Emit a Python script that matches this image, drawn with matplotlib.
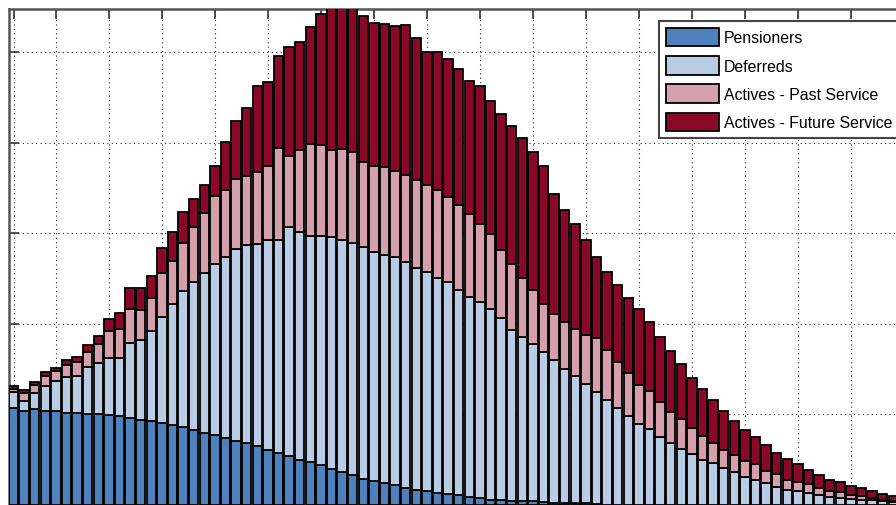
import numpy as np
import matplotlib
matplotlib.use("Agg")
import matplotlib.pyplot as plt

# projected cash flows by year, stacked by member group
years = np.arange(1, 85)

pensioners = [107, 104, 106, 104, 104, 102, 102, 101, 101, 99,
              98, 96, 94, 93, 91, 88, 86, 83, 80, 77,
              74, 71, 68, 65, 61, 57, 54, 50, 47, 44,
              40, 36, 33, 29, 27, 24, 22, 19, 17, 15,
              13, 12, 11, 9, 8, 6, 5, 4, 4, 4,
              3, 2, 2, 2, 2, 1] + [0] * 28

deferreds = [18, 11, 18, 27, 33, 39, 41, 51, 56, 63,
             64, 83, 88, 99, 117, 134, 150, 163, 176, 189,
             200, 212, 219, 223, 232, 236, 253, 252, 250, 253,
             256, 257, 257, 256, 253, 252, 252, 250, 245, 242,
             238, 234, 227, 221, 216, 210, 202, 189, 182, 174,
             166, 158, 148, 141, 132, 124, 116, 107, 98, 90,
             84, 75, 69, 62, 56, 50, 46, 41, 36, 31,
             28, 24, 20, 17, 15, 13, 11, 9, 8, 7,
             6, 5, 4, 3]

past_service = [3, 9, 9, 12, 11, 14, 15, 17, 21, 30,
                33, 38, 33, 37, 48, 48, 54, 61, 67, 75,
                74, 77, 77, 80, 82, 101, 79, 90, 102, 101,
                96, 100, 100, 94, 95, 97, 95, 96, 97, 97,
                97, 94, 94, 91, 86, 83, 75, 73, 65, 59,
                53, 51, 52, 52, 54, 59, 55, 51, 48, 43,
                42, 39, 34, 33, 29, 26, 22, 20, 19, 18,
                17, 14, 14, 11, 10, 10, 8, 7, 6, 4,
                4, 3, 2, 1]

future_service = [4, 3, 3, 4, 3, 5, 6, 8, 9, 13,
                  17, 23, 25, 24, 28, 32, 34, 31, 30, 33,
                  53, 64, 75, 95, 92, 102, 120, 120, 129, 144,
                  161, 162, 163, 161, 158, 158, 160, 165, 157, 146,
                  153, 153, 150, 148, 153, 147, 150, 153, 155, 153,
                  153, 133, 124, 116, 105, 90, 86, 85, 83, 84,
                  76, 72, 67, 61, 55, 52, 48, 43, 38, 34,
                  30, 28, 24, 23, 20, 16, 14, 12, 11, 10,
                  9, 7, 6, 6]

labels = ['Pensioners', 'Deferreds', 'Actives - Past Service', 'Actives - Future Service']
colors = ['#4F81BD', '#B9CCE3', '#D4A0AB', '#8A0828']

plt.rcParams['font.family'] = ['Liberation Sans', 'DejaVu Sans']

W, H = 896, 506
fig = plt.figure(figsize=(W / 100, H / 100), dpi=100)

# axes placed in pixels, partly beyond the right edge like the cropped original
x_left, x_right = 0.575, 85.5
px_left = 9
px_per_bar = 10.6
ax_w = (x_right - x_left) * px_per_bar
ax = fig.add_axes([px_left / W, 0, ax_w / W, (H - 10) / H])

series = [pensioners, deferreds, past_service, future_service]
bottom = np.zeros(len(years))
for vals, col, lab in zip(series, colors, labels):
    vals = np.array(vals, dtype=float)
    ax.bar(years, vals, bottom=bottom, width=0.9, color=col,
           edgecolor='black', linewidth=1.3, label=lab, zorder=3)
    bottom += vals

ax.set_xlim(x_left, x_right)
ax.set_ylim(0, 548)
ax.set_xticks([1] + list(range(5, 86, 5)))
ax.set_yticks(range(0, 501, 100))
ax.set_xticklabels([])
ax.set_yticklabels([])
ax.tick_params(direction='in', length=7, width=1.2, color='#333333',
               top=True, right=True, bottom=False)
ax.grid(True, color='#222222', linestyle=(0, (1, 3)), linewidth=0.8, zorder=1)
ax.set_axisbelow(True)
for s in ['top', 'left']:
    ax.spines[s].set_color('#555555')
    ax.spines[s].set_linewidth(1.8)
ax.spines['bottom'].set_visible(False)

leg = ax.legend(loc='upper left', bbox_to_anchor=(659 / W, 1 - 22 / H),
                bbox_transform=fig.transFigure, borderaxespad=0,
                fontsize=11.4, handlelength=3.4, handleheight=1.45,
                labelspacing=0.6, handletextpad=0.3, borderpad=0.42,
                fancybox=False, framealpha=1, edgecolor='#444444')
leg.get_frame().set_linewidth(1.5)
leg.set_zorder(5)

fig.savefig('out.png', dpi=100)
